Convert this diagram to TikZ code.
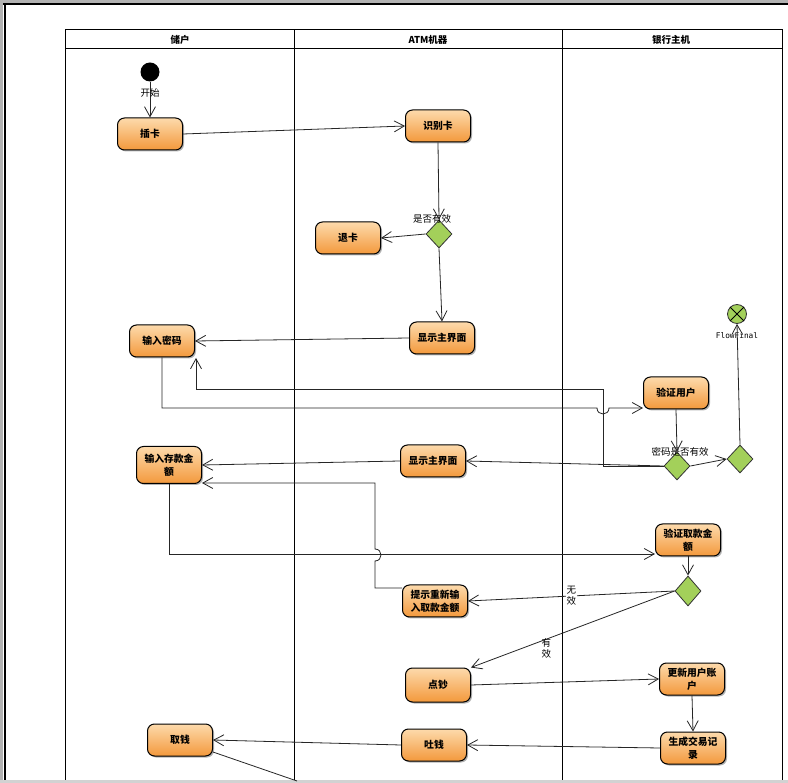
\documentclass[tikz,border=0pt]{standalone}
\usepackage{fontspec}
\newfontfamily\cjk{Noto Sans CJK SC}
\newfontfamily\monof{DejaVu Sans Mono}
\usetikzlibrary{arrows.meta,shapes.geometric,shadows}
\definecolor{oL}{HTML}{FDDAAC}
\definecolor{oD}{HTML}{F3993C}
\definecolor{dgreen}{HTML}{A3D05A}
\tikzset{
  act/.style={rectangle, rounded corners=7pt, draw=black, line width=1pt,
    top color=oL, bottom color=oD,
    drop shadow={shadow xshift=1.5pt, shadow yshift=-1.5pt, fill=black, opacity=0.3},
    minimum width=65pt, minimum height=32pt, inner sep=1pt, align=center,
    font=\cjk\bfseries\fontsize{9.8}{13}\selectfont},
  decis/.style={diamond, draw=black!80, line width=0.8pt, fill=dgreen,
    minimum width=26pt, minimum height=28pt, inner sep=0pt},
  flow/.style={draw=black!85, line width=0.8pt,
    -{Straight Barb[length=10pt,width=11pt,line width=0.8pt]}},
  plainline/.style={draw=black!85, line width=0.8pt},
  lbl/.style={font=\cjk\fontsize{9.5}{11}\selectfont, inner sep=0.5pt, align=center},
  hdr/.style={font=\cjk\bfseries\fontsize{9.5}{11}\selectfont, inner sep=0pt},
  lane/.style={draw=black, line width=1pt}
}
\begin{document}
\begin{tikzpicture}[x=1pt,y=-1pt]
\useasboundingbox (0,0) rectangle (788,783);
\fill[white] (0,0) rectangle (788,783);
% window frame
\fill[gray!60] (0,0) rectangle (788,3);
\fill[gray!60] (0,0) rectangle (3,783);
\draw[line width=1.5pt] (3,4) -- (788,4);
\draw[line width=1.5pt] (4.8,4) -- (4.8,783);
\fill[gray!35] (0,780) rectangle (788,783);

% swimlanes
\draw[lane] (65,30) rectangle (782,49);
\draw[lane] (65,49) -- (65,780);
\draw[lane] (294,30) -- (294,780);
\draw[lane] (562,30) -- (562,780);
\draw[lane] (782,49) -- (782,780);
\node[hdr] (h1) at (180,40) {储户};
\node[hdr] (h2) at (428,40) {ATM机器};
\node[hdr] (h3) at (671,40) {银行主机};

% nodes
\node[circle, fill=black, minimum size=19pt, inner sep=0pt] (start) at (150,72) {};
\node[act] (chaka) at (150,134) {插卡};
\node[act] (sbk) at (438,126) {识别卡};
\node[decis] (d1) at (439,234) {};
\node[act] (tuika) at (348,238) {退卡};
\node[act] (xs1) at (442,338) {显示主界面};
\node[act] (srmm) at (162,341) {输入密码};
\node[act] (yzyh) at (676,393) {验证用户};
\node[circle, draw=black!80, line width=0.8pt, fill=dgreen, minimum size=19pt, inner sep=0pt] (ff) at (737,314) {};
\draw[line width=0.8pt] (ff.45) -- (ff.225) (ff.135) -- (ff.315);
\node[decis] (d2) at (677,466) {};
\node[decis] (d3) at (740,459) {};
\node[act] (xs2) at (433,461) {显示主界面};
\node[act, minimum height=37pt] (srck) at (169,465) {输入存款金\\额};
\node[act] (yzqk) at (688,540) {验证取款金\\额};
\node[decis, minimum height=30pt] (d4) at (688,591) {};
\node[act] (tsrs) at (435,601) {提示重新输\\入取款金额};
\node[act, minimum height=34pt] (dc) at (438,685) {点钞};
\node[act] (gxzh) at (692,679) {更新用户账\\户};
\node[act] (scjy) at (693,748) {生成交易记\\录};
\node[act] (tq) at (434,745) {吐钱};
\node[act] (qq) at (180,740) {取钱};
\coordinate (offb) at (297,781);

% labels
\node[lbl] (l1) at (432,219) {是否有效};
\node[lbl] (l2) at (680,452) {密码是否有效};
\node[font=\monof\fontsize{7.8}{9}\selectfont, inner sep=0pt] (l3) at (737,336) {FlowFinal};

% connectors
\draw[flow] (start) -- node[lbl, pos=0.3] {开始} (chaka);
\draw[flow] (chaka.east) -- (sbk.west);
\draw[flow] (sbk.south) -- (d1.north);
\draw[flow] (d1.west) -- (tuika.east);
\draw[flow] (d1.south) -- (xs1.north);
\draw[flow] (xs1.west) -- (srmm.east);
\draw[flow] (srmm.south) -- (162,408) -- (597,408)
  .. controls (597,416) and (609,416) .. (609,408) -- (yzyh.west |- 0,408);
\draw[flow] (d2.west) -- (603,466) -- (603,389) -- (196,389) -- (196,358);
\draw[flow] (yzyh.south) -- (d2.north);
\draw[flow] (d2.east) -- (d3.west);
\draw[flow] (d3.north) -- (ff.south);
\draw[flow] (d2.west) -- (xs2.east);
\draw[flow] (xs2.west) -- (srck.east);
\draw[flow] (srck.south) -- (169,554) -- (yzqk.west |- 0,554);
\draw[flow] (tsrs.west |- 0,588) -- (375,588) -- (375,561)
  .. controls (383,561) and (383,549) .. (375,549) -- (375,483) -- (srck.east |- 0,483);
\draw[flow] (yzqk.south) -- (d4.north);
\draw[flow] (d4.west) -- node[lbl, fill=white, pos=0.5] {无\\效} (tsrs.east);
\draw[flow] (d4.west) -- node[lbl, pos=0.63, yshift=-9pt] {有\\效} (dc.north east);
\draw[flow] (dc.east) -- (gxzh.west);
\draw[flow] (gxzh.south) -- (scjy.north);
\draw[flow] (scjy.west) -- (tq.east);
\draw[flow] (tq.west) -- (qq.east);
\draw[plainline] (qq.-20) -- (offb);
\end{tikzpicture}
\end{document}
